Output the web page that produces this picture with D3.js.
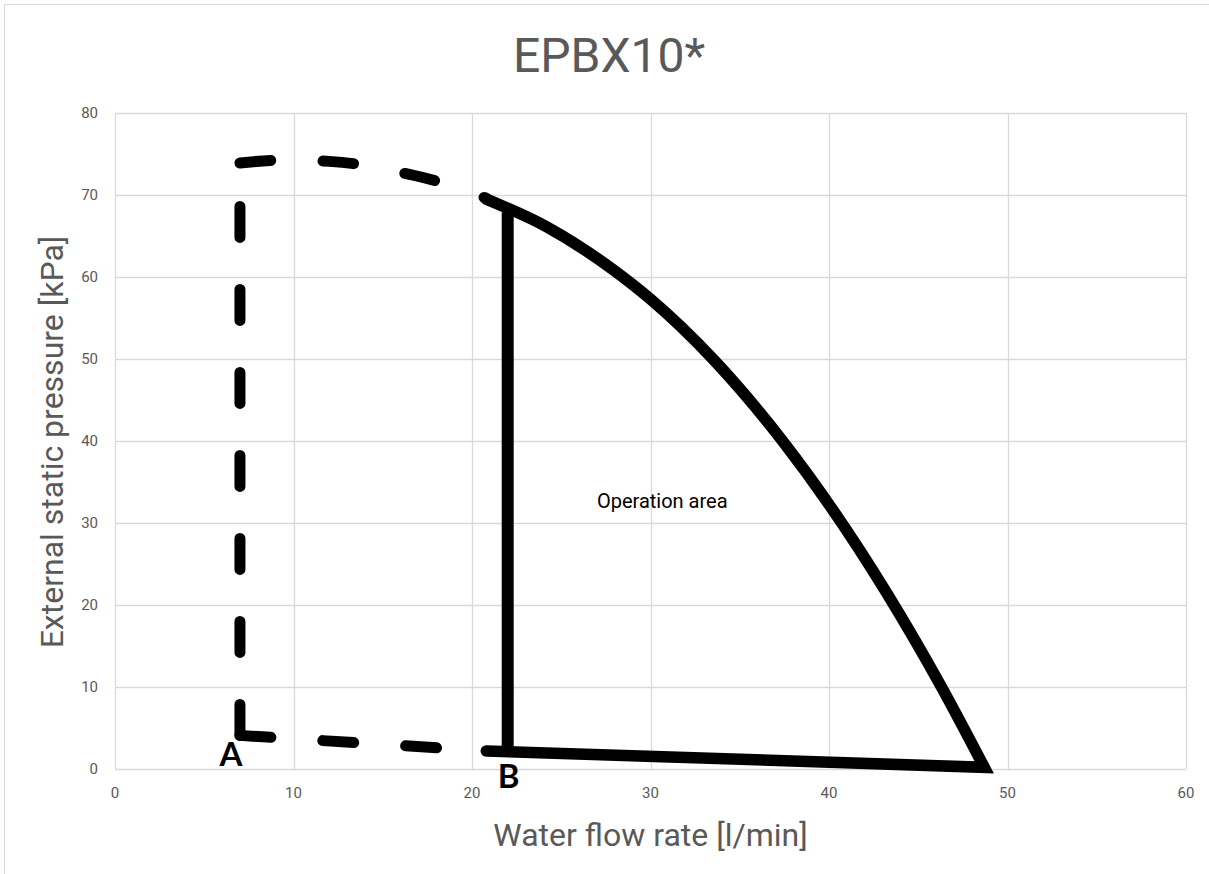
<!DOCTYPE html>
<html>
<head>
<meta charset="utf-8">
<script src="https://cdn.jsdelivr.net/npm/d3@7"></script>
<style>
  html, body { margin: 0; padding: 0; background: #fff; }
  svg { display: block; }
</style>
</head>
<body>
<div id="chart"></div>
<script>
// axis ticks
const xTicks = [0, 10, 20, 30, 40, 50, 60];
const yTicks = [0, 10, 20, 30, 40, 50, 60, 70, 80];

// dashed limit lines [flow, pressure]
const limitLeft = [[7, 4.1], [7, 73.9]];
const limitBottom = [[7, 4.1], [20.8, 2.2]];
const limitTop = [[7, 73.9], [9.2, 74.25], [12, 74.1], [14, 73.6], [16.3, 72.6], [18.3, 71.5], [20.8, 69.6]];

// solid operation area
const pumpCurve = [[20.8, 69.5], [24.2, 66.1], [27.9, 60.9], [30, 57.3], [33.5, 50], [37.4, 40], [46.3, 10], [48.7, 0.2]];
const bottomLine = [[48.7, 0.2], [20.8, 2.2]];
const minFlowLine = [[22, 2.1], [22, 67.9]];

// point names
const pointA = { name: 'A', x: 7, y: 4.1 };
const pointB = { name: 'B', x: 22, y: 2.1 };
const areaLabel = { text: 'Operation area', x: 27, y: 31.8 };

const W = 1209, H = 874;
const grey = '#595959', gridCol = '#d9d9d9';

const svg = d3.select('#chart').append('svg')
    .attr('width', W)
    .attr('height', H);

// chart border
svg.append('rect')
    .attr('x', 4.5).attr('y', 4.5)
    .attr('width', 1240).attr('height', 900)
    .attr('fill', 'none')
    .attr('stroke', gridCol);

const x = d3.scaleLinear().domain([0, 60]).range([115, 1186]);
const y = d3.scaleLinear().domain([0, 80]).range([769, 113]);

// grid
svg.append('g').selectAll('line').data(xTicks).enter().append('line')
    .attr('x1', d => Math.round(x(d)) + 0.5).attr('x2', d => Math.round(x(d)) + 0.5)
    .attr('y1', y(80)).attr('y2', y(0))
    .attr('stroke', gridCol).attr('stroke-width', 1.3);
svg.append('g').selectAll('line').data(yTicks).enter().append('line')
    .attr('y1', d => Math.round(y(d)) + 0.5).attr('y2', d => Math.round(y(d)) + 0.5)
    .attr('x1', x(0)).attr('x2', x(60))
    .attr('stroke', gridCol).attr('stroke-width', 1.3);

// tick labels
svg.append('g').selectAll('text').data(xTicks).enter().append('text')
    .attr('x', d => x(d)).attr('y', y(0) + 29)
    .attr('text-anchor', 'middle')
    .attr('font-family', 'Roboto')
    .attr('font-size', '15px')
    .attr('fill', grey)
    .text(d => d);
svg.append('g').selectAll('text').data(yTicks).enter().append('text')
    .attr('x', x(0) - 17).attr('y', d => y(d))
    .attr('dy', '0.35em')
    .attr('text-anchor', 'end')
    .attr('font-family', 'Roboto')
    .attr('font-size', '15px')
    .attr('fill', grey)
    .text(d => d);

// titles
svg.append('text')
    .attr('x', 609).attr('y', 72)
    .attr('text-anchor', 'middle')
    .attr('font-family', 'Roboto')
    .attr('font-size', '48px')
    .attr('fill', grey)
    .text('EPBX10*');

svg.append('text')
    .attr('x', (x(0) + x(60)) / 2).attr('y', 846)
    .attr('text-anchor', 'middle')
    .attr('font-family', 'Roboto')
    .attr('font-size', '32px')
    .attr('fill', grey)
    .text('Water flow rate [l/min]');

svg.append('text')
    .attr('transform', 'translate(63,442) rotate(-90)')
    .attr('text-anchor', 'middle')
    .attr('font-family', 'Roboto')
    .attr('font-size', '32px')
    .attr('fill', grey)
    .text('External static pressure [kPa]');

// lines
const straight = d3.line().x(d => x(d[0])).y(d => y(d[1]));
const smooth = d3.line().x(d => x(d[0])).y(d => y(d[1])).curve(d3.curveMonotoneX);

[limitLeft, limitBottom].forEach(pts => {
    svg.append('path')
        .attr('d', straight(pts))
        .attr('fill', 'none')
        .attr('stroke', '#000')
        .attr('stroke-width', 11)
        .attr('stroke-linecap', 'round')
        .attr('stroke-dasharray', '31 52');
});
svg.append('path')
    .attr('d', d3.line().x(d => x(d[0])).y(d => y(d[1])).curve(d3.curveNatural)(limitTop))
    .attr('fill', 'none')
    .attr('stroke', '#000')
    .attr('stroke-width', 11)
    .attr('stroke-linecap', 'round')
    .attr('stroke-dasharray', '31 52');

svg.append('path')
    .attr('d', straight(minFlowLine))
    .attr('fill', 'none')
    .attr('stroke', '#000')
    .attr('stroke-width', 12);

const last = bottomLine[bottomLine.length - 1];
svg.append('path')
    .attr('d', smooth(pumpCurve) + 'L' + x(last[0]) + ',' + y(last[1]))
    .attr('fill', 'none')
    .attr('stroke', '#000')
    .attr('stroke-width', 11.5)
    .attr('stroke-linecap', 'round')
    .attr('stroke-linejoin', 'miter');

// labels
svg.append('text')
    .attr('x', x(pointA.x) - 9).attr('y', y(pointA.y) + 31)
    .attr('text-anchor', 'middle')
    .attr('font-family', 'Lato')
    .attr('font-weight', 'bold')
    .attr('font-size', '33px')
    .attr('fill', '#000')
    .text(pointA.name);
svg.append('text')
    .attr('x', x(pointB.x) + 1).attr('y', y(pointB.y) + 36)
    .attr('text-anchor', 'middle')
    .attr('font-family', 'Lato')
    .attr('font-weight', 'bold')
    .attr('font-size', '33px')
    .attr('fill', '#000')
    .text(pointB.name);

svg.append('text')
    .attr('x', x(areaLabel.x)).attr('y', y(areaLabel.y))
    .attr('font-family', 'Roboto')
    .attr('font-size', '20px')
    .attr('fill', '#000')
    .text(areaLabel.text);
</script>
</body>
</html>
